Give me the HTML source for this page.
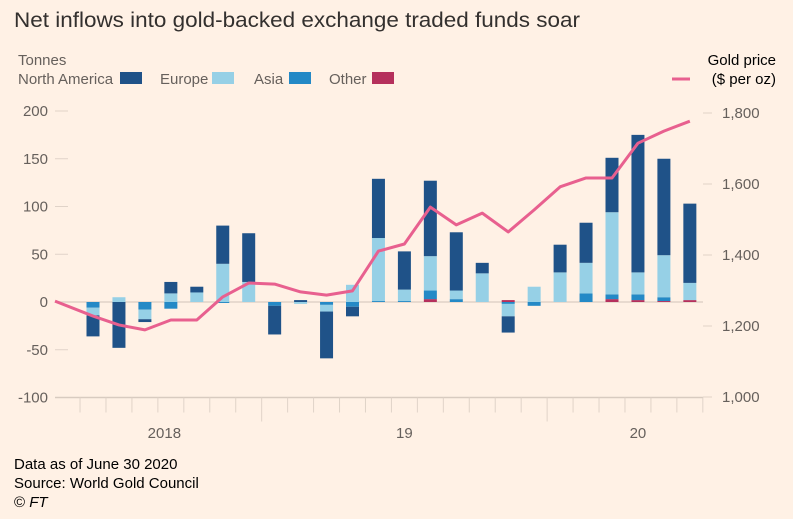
<!DOCTYPE html>
<html><head><meta charset="utf-8"><style>
html,body{margin:0;padding:0;background:#fff1e5;}
body{width:793px;height:514px;overflow:hidden;font-family:"Liberation Sans",sans-serif;color:#66605c;}
svg text{font-family:"Liberation Sans",sans-serif;}
</style></head><body>
<svg width="793" height="514" viewBox="0 0 793 514">
<text x="14" y="27" font-size="21" fill="#33302e" textLength="566" lengthAdjust="spacingAndGlyphs">Net inflows into gold-backed exchange traded funds soar</text>
<text x="18" y="65" font-size="15" fill="#66605c">Tonnes</text>
<g font-size="15" fill="#66605c">
<text x="18" y="84">North America</text>
<rect x="120" y="72" width="22" height="12" fill="#1f5288"/>
<text x="160" y="84">Europe</text>
<rect x="212" y="72" width="22" height="12" fill="#96d0e6"/>
<text x="254" y="84">Asia</text>
<rect x="289" y="72" width="22" height="12" fill="#2489c6"/>
<text x="329" y="84">Other</text>
<rect x="372" y="72" width="22" height="12" fill="#b5305c"/>
</g>
<text x="776" y="65" font-size="15" text-anchor="end">Gold price</text>
<line x1="672" y1="79" x2="690" y2="79" stroke="#e8608f" stroke-width="3"/>
<text x="776" y="84" font-size="15" text-anchor="end">($ per oz)</text>
<g id="axes"></g>
<g id="bars"></g>
<g id="line"></g>
<text x="14" y="469" font-size="15">Data as of June 30 2020</text>
<text x="14" y="488" font-size="15">Source: World Gold Council</text>
<text x="14" y="507" font-size="15">© <tspan font-style="italic">FT</tspan></text>
</svg>
<script>
const northAmerica=[-22,-48,-3,12,6,40,51,-30,2,-49,-10,62,40,79,61,11,-17,0,29,42,57,144,101,83];
const europe=[-8,5,-10,9,10,40,21,0,-2,-7,18,66,12,36,9,30,-13,16,31,32,86,23,44,18];
const asia=[-6,0,-8,-7,0,-1,0,-4,0,-3,-5,1,1,9,3,0,-2,-4,0,9,5,6,4,0];
const other=[0,0,0,0,0,0,0,0,0,0,0,0,0,3,0,0,2,0,0,0,3,2,1,2];
const goldStart=1270;
const goldPrice=[1228,1203,1189,1217,1217,1282,1321,1318,1296,1287,1299,1411,1431,1535,1485,1518,1465,1527,1592,1617,1617,1715,1749,1777];
const leftTicks=[200,150,100,50,0,-50,-100];
const rightTicks=[1800,1600,1400,1200,1000];
const yearLabels=["2018","19","20"];
const yearPos=[2.75,12,21];

const NS="http://www.w3.org/2000/svg";
function yL(v){return 302-v*0.955;}
function yR(v){return 326-(v-1200)*71/200;}
function xB(i){return 93+i*25.95;}
function mk(tag,attrs,parent){const e=document.createElementNS(NS,tag);for(const k in attrs)e.setAttribute(k,attrs[k]);parent.appendChild(e);return e;}
const axes=document.getElementById('axes'),bars=document.getElementById('bars'),line=document.getElementById('line');
leftTicks.forEach(v=>{
  const t=mk('text',{x:48,y:yL(v)+5,'font-size':15,'text-anchor':'end',fill:'#66605c'},axes);
  t.textContent=v;
  
  
  if(v!==0&&v!==-100){const l=mk('line',{x1:55,y1:yL(v),x2:68,y2:yL(v),stroke:'#e0d3c8'},axes);
  
  }
});
rightTicks.forEach(v=>{
  const t=mk('text',{x:722,y:yR(v)+5,'font-size':15,fill:'#66605c'},axes);
  t.textContent=v.toLocaleString('en-US');
  
  
  const l=mk('line',{x1:703,y1:yR(v),x2:712,y2:yR(v),stroke:'#e0d3c8'},axes);
  
  
});
let z=mk('line',{x1:55,y1:yL(0),x2:703,y2:yL(0),stroke:'#e0d3c8','stroke-width':1.5},axes);


let b=mk('line',{x1:55,y1:yL(-100),x2:703,y2:yL(-100),stroke:'#d8cbc0','stroke-width':1.5},axes);


for(let i=0;i<=goldPrice.length;i++){
  const x=xB(i-0.5);const long=(i===7||i===18);
  const t=mk('line',{x1:x,y1:yL(-100),x2:x,y2:yL(-100)+(long?24:15),stroke:'#e0d3c8'},axes);
  
  
}
yearLabels.forEach((s,k)=>{
  const t=mk('text',{x:xB(yearPos[k]),y:438,'font-size':15,'text-anchor':'middle',fill:'#66605c'},axes);
  t.textContent=s;
  
  
});
const series=[[other,'#b5305c','other'],[asia,'#2489c6','asia'],[europe,'#96d0e6','europe'],[northAmerica,'#1f5288','north-america']];
goldPrice.forEach((_,i)=>{
  let pos=0,neg=0;
  series.forEach(([arr,col,name])=>{
    const v=arr[i];if(!v)return;
    let a,c;if(v>0){a=pos;c=pos+v;pos=c;}else{a=neg;c=neg+v;neg=c;}
    const y1=yL(Math.max(a,c)),y2=yL(Math.min(a,c));
    const r=mk('rect',{x:xB(i)-6.5,y:y1,width:13,height:Math.max(y2-y1,0.5),fill:col},bars);
    
    
  });
});
let pts=[[55,yR(goldStart)]];
goldPrice.forEach((v,i)=>pts.push([xB(i),yR(v)]));
const p=mk('polyline',{points:pts.map(q=>q.join(',')).join(' '),fill:'none',stroke:'#e8608f','stroke-width':3,'stroke-linejoin':'round'},line);


</script>
</body></html>
